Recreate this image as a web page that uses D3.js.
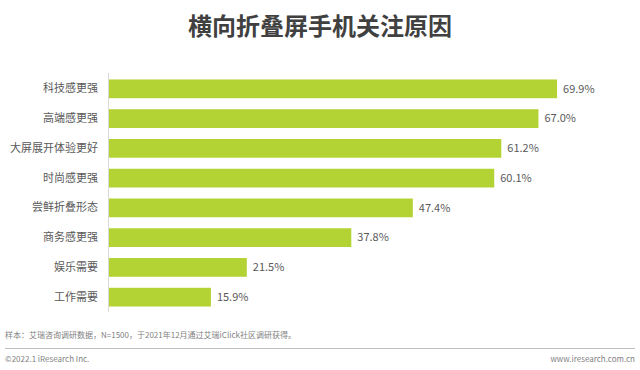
<!DOCTYPE html>
<html>
<head>
<meta charset="utf-8">
<script src="https://cdn.jsdelivr.net/npm/d3@7"></script>
<style>
  body { margin: 0; background: #fff; }
  text { font-family: "Noto Sans CJK SC", "Noto Sans", sans-serif; }
</style>
</head>
<body>
<div id="chart"></div>
<script>
// data
const categories = ["科技感更强", "高端感更强", "大屏展开体验更好", "时尚感更强", "尝鲜折叠形态", "商务感更强", "娱乐需要", "工作需要"];
const values = [69.9, 67.0, 61.2, 60.1, 47.4, 37.8, 21.5, 15.9];

const title = "横向折叠屏手机关注原因";
const note = "样本：艾瑞咨询调研数据，N=1500，于2021年12月通过艾瑞iClick社区调研获得。";
const copyright = "©2022.1 iResearch Inc.";
const site = "www.iresearch.com.cn";

const W = 640, H = 370;
const margin = {top: 75, right: 10, bottom: 60, left: 108};

const svg = d3.select("#chart").append("svg")
  .attr("width", W)
  .attr("height", H);

svg.append("text")
  .attr("x", W / 2)
  .attr("y", 35)
  .attr("text-anchor", "middle")
  .attr("font-size", 24)
  .attr("font-weight", "bold")
  .attr("fill", "#404040")
  .text(title);

const x = d3.scaleLinear()
  .domain([0, 100])
  .range([margin.left, margin.left + 641]);

const y = d3.scaleBand()
  .domain(categories)
  .range([75, 311])
  .paddingInner(0.37)
  .paddingOuter(0.15);

const data = categories.map((c, i) => ({cat: c, val: values[i]}));

svg.selectAll(".bar")
  .data(data)
  .join("rect")
  .attr("class", "bar")
  .attr("x", x(0) + 1)
  .attr("y", d => y(d.cat))
  .attr("width", d => x(d.val) - x(0))
  .attr("height", y.bandwidth())
  .attr("fill", "#b3d234");

// left axis line, no ticks
const yAxis = svg.append("g")
  .attr("transform", `translate(${x(0)},0)`)
  .call(d3.axisLeft(y).tickSize(0).tickPadding(10));
yAxis.select(".domain").attr("stroke", "#d9d9d9").attr("d", "M0.5,73V312");
yAxis.selectAll("text")
  .attr("font-size", 11)
  .attr("fill", "#595959")
  .style("font-family", '"Noto Sans CJK SC", sans-serif');

svg.selectAll(".val")
  .data(data)
  .join("text")
  .attr("class", "val")
  .attr("x", d => x(d.val) + 7)
  .attr("y", d => y(d.cat) + y.bandwidth() / 2)
  .attr("dy", "0.35em")
  .attr("font-size", 11)
  .attr("fill", "#595959")
  .text(d => d.val.toFixed(1) + "%");

svg.append("text")
  .attr("x", 5)
  .attr("y", 338)
  .attr("font-size", 8)
  .attr("fill", "#7f7f7f")
  .text(note);

svg.append("line")
  .attr("x1", 5).attr("x2", 635)
  .attr("y1", 348.5).attr("y2", 348.5)
  .attr("stroke", "#bfbfbf");

svg.append("text")
  .attr("x", 5)
  .attr("y", 362)
  .attr("font-size", 8)
  .attr("fill", "#7f7f7f")
  .text(copyright);

svg.append("text")
  .attr("x", 635)
  .attr("y", 362)
  .attr("text-anchor", "end")
  .attr("font-size", 8)
  .attr("fill", "#7f7f7f")
  .text(site);
</script>
</body>
</html>
